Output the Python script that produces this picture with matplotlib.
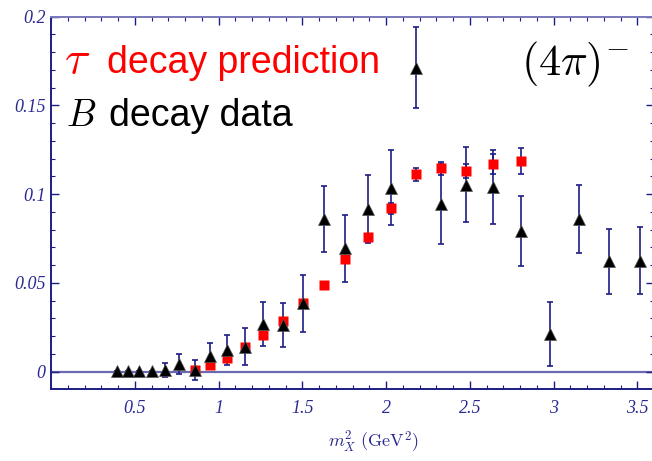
import matplotlib
matplotlib.use("Agg")
import matplotlib.pyplot as plt
from matplotlib.ticker import MultipleLocator, FixedLocator
import numpy as np

plt.rcParams['mathtext.fontset'] = 'cm'

# B decay data (black triangles)
b_x = [0.392, 0.458, 0.527, 0.601, 0.681, 0.766, 0.857, 0.951, 1.053, 1.158,
       1.267, 1.383, 1.503, 1.628, 1.755, 1.893, 2.032, 2.177, 2.327, 2.479,
       2.641, 2.806, 2.977, 3.150, 3.331, 3.516]
b_y = [0.0005, 0.0005, 0.0005, 0.0005, 0.0010, 0.0043, 0.0010, 0.0088, 0.0122, 0.0141,
       0.0267, 0.0263, 0.0385, 0.0860, 0.0695, 0.0918, 0.1037, 0.1713, 0.0945, 0.1054,
       0.1039, 0.0793, 0.0211, 0.0860, 0.0622, 0.0625]
b_err = [0.0, 0.0, 0.0, 0.0, 0.0037, 0.0055, 0.0055, 0.0072, 0.0083, 0.0105,
         0.0124, 0.0125, 0.0160, 0.0185, 0.0189, 0.0193, 0.0210, 0.0230, 0.0226, 0.0210,
         0.0208, 0.0196, 0.0179, 0.0190, 0.0184, 0.0189]

# tau decay prediction (red squares)
t_x = [0.857, 0.951, 1.053, 1.158, 1.267, 1.383, 1.503, 1.628, 1.755, 1.893,
       2.032, 2.177, 2.327, 2.479, 2.641, 2.806]
t_y = [0.0008, 0.0037, 0.0075, 0.0142, 0.0205, 0.0284, 0.0387, 0.0487, 0.0633, 0.0757,
       0.0921, 0.1112, 0.1146, 0.1129, 0.1170, 0.1187]
t_err = [0.0005, 0.0008, 0.0010, 0.0012, 0.0012, 0.0015, 0.0015, 0.0015, 0.0018, 0.0020,
         0.0030, 0.0035, 0.0035, 0.0040, 0.0056, 0.0073]

navy = '#1c1c84'
light = '#7878bb'
lab = '#2a2a92'

W, H = 652, 461
fig = plt.figure(figsize=(W / 100, H / 100), dpi=100)
ax = fig.add_axes([51 / W, 71.7 / H, 603 / W, 372.6 / H])

ax.axhline(0, color='#6a6ab0', lw=1.6, zorder=1)

ax.errorbar(t_x, t_y, yerr=t_err, fmt='none', ecolor=navy, elinewidth=1.2,
            capsize=2.5, capthick=1.2, zorder=2)
ax.errorbar(b_x, b_y, yerr=b_err, fmt='none', ecolor=navy, elinewidth=1.2,
            capsize=2.5, capthick=1.2, zorder=2)
ax.plot(t_x, t_y, 's', color='#ff0000', ms=7, mec='none', zorder=3)
ax.plot(b_x, b_y, '^', color='black', ms=8.5, mec='#555555', mew=0.5, zorder=4)

ax.set_xlim(0, 3.6)
ax.set_ylim(-0.0099, 0.2)

ax.xaxis.set_major_locator(FixedLocator([0.5, 1, 1.5, 2, 2.5, 3, 3.5]))
ax.xaxis.set_minor_locator(MultipleLocator(0.1))
ax.yaxis.set_major_locator(FixedLocator([0, 0.05, 0.1, 0.15, 0.2]))
ax.yaxis.set_minor_locator(MultipleLocator(0.01))
ax.set_xticklabels(['0.5', '1', '1.5', '2', '2.5', '3', '3.5'])
ax.set_yticklabels(['0', '0.05', '0.1', '0.15', '0.2'])

ax.tick_params(which='both', direction='in', top=True, right=True,
               color=navy, labelcolor=lab)
ax.tick_params(which='major', length=5.5, width=1.0)
ax.tick_params(which='minor', length=3, width=0.8)
ax.tick_params(axis='x', pad=8)
ax.tick_params(axis='y', pad=4)
for t in ax.get_xticklabels() + ax.get_yticklabels():
    t.set_fontfamily('Liberation Serif')
    t.set_fontstyle('italic')
    t.set_fontsize(13)

ax.spines['left'].set_color(navy)
ax.spines['bottom'].set_color(navy)
ax.spines['top'].set_color(light)
ax.spines['right'].set_color(light)
for s in ax.spines.values():
    s.set_linewidth(1.4)

fig.text(373 / W, (H - 448) / H, r'$m_X^2\ (\mathrm{GeV}^2)$', color=lab,
         fontsize=13, ha='center', va='baseline')

# legend-like labels
fig.text(64 / W, (H - 73) / H, r'$\tau$', color='#ff0000',
         fontsize=34, va='baseline')
fig.text(107 / W, (H - 73) / H, 'decay prediction', color='#ff0000',
         fontsize=27, family='Liberation Sans', va='baseline')
fig.text(66 / W, (H - 126) / H, r'$B$', color='black',
         fontsize=27, va='baseline')
fig.text(109 / W, (H - 126) / H, 'decay data', color='black',
         fontsize=27, family='Liberation Sans', va='baseline')
fig.text(521 / W, (H - 75) / H, r'$(4\pi)^{-}$', color='black',
         fontsize=32, va='baseline')

fig.savefig('out.png', dpi=100)
